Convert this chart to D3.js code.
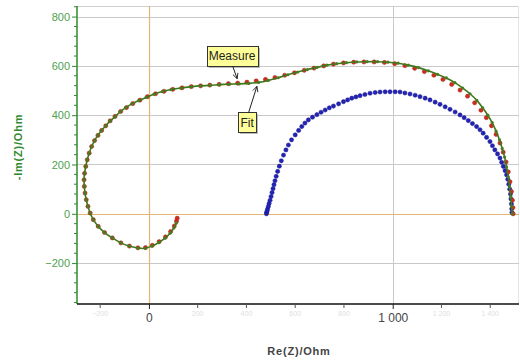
<!DOCTYPE html>
<html>
<head>
<meta charset="utf-8">
<script src="https://cdn.jsdelivr.net/npm/d3@7"></script>
<style>
  html, body { margin: 0; padding: 0; background: #fff; }
  svg { display: block; font-family: "Liberation Sans", Arial, sans-serif; }
</style>
</head>
<body>
<svg id="chart" width="520" height="361"></svg>
<script>
// Nyquist data: [Re(Z), -Im(Z)] in Ohm
const fitSeries = [
  [1490,0],[1488,30],[1484,70],[1479,110],[1474,150],[1467,190],[1459,230],[1449,265],[1438,300],[1424,335],
  [1408,370],[1390,400],[1369,430],[1345,460],[1317,487],[1287,510],[1255,532],[1220,551],[1184,566],[1146,580],
  [1106,593],[1064,603],[1022,611],[980,615],[938,617],[895,617],[852,616],[810,613],[770,609],[730,603],
  [690,594],[650,585],[610,575],[570,564],[530,552],[490,541],[450,533],[410,529],[370,527],[330,526],
  [290,524],[250,521],[210,519],[170,515],[130,510],[90,504],[55,496],[20,485],[-12,472],[-42,459],
  [-70,446],[-95,431],[-118,414],[-140,393],[-160,376],[-178,356],[-195,337],[-210,318],[-223,297],[-235,273],
  [-245,246],[-253,219],[-259,192],[-264,164],[-266,138],[-265,111],[-262,84],[-257,57],[-250,30],[-241,3],
  [-228,-24],[-208,-51],[-182,-76],[-150,-98],[-115,-118],[-80,-131],[-45,-139],[-15,-140],[12,-131],[40,-117],
  [66,-99],[87,-79],[102,-58],[112,-38]
];

const measureSeries = [
  [1494,0],[1493,25],[1491,55],[1487,90],[1481,130],[1474,170],[1465,210],[1453,250],[1440,287],[1424,322],
  [1405,357],[1384,390],[1362,420],[1336,450],[1307,477],[1276,502],[1242,525],[1206,545],[1169,562],[1130,577],
  [1090,590],[1050,601],[1008,609],[966,614],[924,616],[882,616],[840,615],[798,612],[757,607],[717,600],
  [677,591],[637,582],[597,572],[557,562],[517,553],[478,545],[440,539],[402,534],[364,530],[326,528],
  [288,525],[250,522],[212,519],[174,516],[136,511],[98,505],[62,497],[27,487],[-6,475],[-37,461],
  [-66,447],[-92,431],[-116,415],[-139,395],[-159,377],[-177,357],[-194,338],[-209,318],[-223,297],[-235,273],
  [-245,246],[-253,219],[-259,192],[-264,164],[-266,138],[-265,111],[-262,84],[-257,57],[-250,30],[-241,3],
  [-228,-24],[-208,-51],[-182,-76],[-150,-98],[-115,-118],[-80,-131],[-45,-138],[-14,-137],[14,-128],[42,-113],
  [68,-94],[89,-72],[104,-50],[113,-30],[116,-18]
];

const secondSeries = [
  [482,0],[483,6],[485,12],[487,20],[490,30],[493,42],[497,55],[501,70],[505,86],[509,102],
  [513,118],[517,134],[522,152],[528,172],[535,193],[543,215],[552,238],[562,259],[572,279],[585,300],
  [600,320],[614,338],[627,354],[640,368],[654,381],[671,392],[689,402],[706,412],[723,421],[740,430],
  [757,437],[778,446],[798,455],[815,462],[832,469],[849,474],[866,479],[886,484],[907,489],[928,492],
  [948,494],[969,495],[989,495],[1010,495],[1030,494],[1050,490],[1071,486],[1092,481],[1112,475],[1133,469],
  [1153,462],[1174,453],[1194,444],[1215,434],[1235,424],[1256,413],[1276,401],[1293,390],[1310,378],[1327,366],
  [1344,354],[1358,341],[1371,327],[1385,310],[1399,293],[1409,276],[1419,259],[1430,243],[1440,226],[1447,209],
  [1454,192],[1461,175],[1467,158],[1472,140],[1476,120],[1480,100],[1483,80],[1485,60],[1487,40],[1488,20],[1489,5]
];

const yTickValues = [-200, 0, 200, 400, 600, 800];
const xMajorTicks = [0, 1000];
const xMinorTicks = [-200, 200, 400, 600, 800, 1200, 1400];
const xTitle = "Re(Z)/Ohm";
const yTitle = "-Im(Z)/Ohm";

// callouts: label, box centre and arrow tip in data units
const calloutLabels = ["Measure", "Fit"];
const calloutBoxes = [[341, 642], [403, 372]];
const calloutTips = [[362, 548], [443, 517]];

const svg = d3.select("#chart");
const plotL = 77, plotR = 519, plotT = 6, plotB = 304;

const x = d3.scaleLinear().domain([-295, 1518]).range([plotL, plotR]);
const y = d3.scaleLinear().domain([-366, 843]).range([plotB, plotT]);

const fmt = v => d3.format(",")(v).replace(/,/g, " ");

// frame and grid
svg.append("line").attr("x1", plotL).attr("x2", plotR).attr("y1", plotT + 0.5).attr("y2", plotT + 0.5)
  .attr("stroke", "#d0d0d0");
svg.append("line").attr("x1", plotR - 0.5).attr("x2", plotR - 0.5).attr("y1", plotT).attr("y2", plotB)
  .attr("stroke", "#e4e4e4");

svg.append("g").selectAll("line")
  .data(yTickValues.filter(v => v !== 0))
  .join("line")
  .attr("x1", plotL).attr("x2", plotR)
  .attr("y1", d => Math.round(y(d)) + 0.5).attr("y2", d => Math.round(y(d)) + 0.5)
  .attr("stroke", "#c9c9c9").attr("stroke-width", 1);

svg.append("line")
  .attr("x1", Math.round(x(1000)) + 0.5).attr("x2", Math.round(x(1000)) + 0.5)
  .attr("y1", plotT).attr("y2", plotB)
  .attr("stroke", "#c9c9c9");

// zero lines
svg.append("line")
  .attr("x1", plotL).attr("x2", plotR)
  .attr("y1", Math.round(y(0)) + 0.5).attr("y2", Math.round(y(0)) + 0.5)
  .attr("stroke", "#e2b676").attr("stroke-width", 1.2);
svg.append("line")
  .attr("x1", Math.round(x(0)) + 0.5).attr("x2", Math.round(x(0)) + 0.5)
  .attr("y1", plotT).attr("y2", plotB)
  .attr("stroke", "#e2b676").attr("stroke-width", 1.2);

// second spectrum
svg.append("g").selectAll("circle")
  .data(secondSeries)
  .join("circle")
  .attr("cx", d => x(d[0])).attr("cy", d => y(d[1]))
  .attr("r", 2.1).attr("fill", "#2323b8").attr("stroke", "#16168a").attr("stroke-width", 0.5);

// measured spectrum
svg.append("g").selectAll("circle")
  .data(measureSeries)
  .join("circle")
  .attr("cx", d => x(d[0])).attr("cy", d => y(d[1]))
  .attr("r", 2.1).attr("fill", "#d42a1e").attr("stroke", "#9a2a18").attr("stroke-width", 0.5);

// fitted curve
const line = d3.line().x(d => x(d[0])).y(d => y(d[1])).curve(d3.curveCatmullRom);
svg.append("path")
  .datum(fitSeries)
  .attr("d", line)
  .attr("fill", "none").attr("stroke", "#3e7a1c").attr("stroke-width", 1.6);
svg.append("g").selectAll("circle")
  .data(fitSeries)
  .join("circle")
  .attr("cx", d => x(d[0])).attr("cy", d => y(d[1]))
  .attr("r", 1.6).attr("fill", "#4a7a22");

// y axis
const yAxis = d3.axisLeft(y).tickValues(yTickValues).tickSize(5).tickPadding(2).tickFormat(fmt);
const yMinor = d3.range(-360, 841, 40).filter(v => !yTickValues.includes(v));
const gy = svg.append("g").attr("transform", `translate(${plotL},0)`);
gy.call(yAxis);
gy.select(".domain").attr("stroke", "#2f8a2f").attr("stroke-width", 1.5).attr("d", `M0,${plotT}V${plotB}`);
gy.selectAll(".tick line").attr("stroke", "#2f8a2f");
gy.selectAll(".tick text").attr("fill", "#4f9f4f").attr("font-size", 11).attr("font-family", "Liberation Sans, Arial, sans-serif");
gy.append("g").selectAll("line")
  .data(yMinor).join("line")
  .attr("x1", -3).attr("x2", 0)
  .attr("y1", d => y(d)).attr("y2", d => y(d))
  .attr("stroke", "#2f8a2f");

// x axis
const gx = svg.append("g").attr("transform", `translate(0,${plotB})`);
gx.call(d3.axisBottom(x).tickValues(xMajorTicks).tickSize(5).tickPadding(4).tickFormat(fmt));
gx.select(".domain").attr("stroke", "#111").attr("stroke-width", 1.5).attr("d", `M${plotL},0H${plotR}`);
gx.selectAll(".tick line").attr("stroke", "#222");
gx.selectAll(".tick text").attr("fill", "#444").attr("font-size", 12).attr("font-family", "Liberation Sans, Arial, sans-serif");
const gxm = gx.append("g").selectAll("g").data(xMinorTicks).join("g")
  .attr("transform", d => `translate(${x(d)},0)`);
gxm.append("line").attr("y1", 0).attr("y2", 4).attr("stroke", "#555");
gxm.append("text").attr("y", 12).attr("text-anchor", "middle")
  .attr("font-size", 7).attr("fill", "#e0e0e0").text(d => fmt(d));

// axis titles
svg.append("text")
  .attr("x", (plotL + plotR) / 2 + 1).attr("y", 355)
  .attr("text-anchor", "middle").attr("font-size", 11).attr("font-weight", "bold")
  .attr("letter-spacing", 0.8).attr("fill", "#444").text(xTitle);
svg.append("text")
  .attr("transform", "translate(22,147) rotate(-90)")
  .attr("text-anchor", "middle").attr("font-size", 11).attr("font-weight", "bold")
  .attr("letter-spacing", 0.8).attr("fill", "#2f8a2f").text(yTitle);

// callouts
const defs = svg.append("defs");
defs.append("marker").attr("id", "tip").attr("viewBox", "0 0 8 8")
  .attr("refX", 7).attr("refY", 4).attr("markerWidth", 7).attr("markerHeight", 7)
  .attr("orient", "auto").attr("markerUnits", "userSpaceOnUse")
  .append("path").attr("d", "M1,1L7,4L1,7").attr("fill", "none").attr("stroke", "#222").attr("stroke-width", 1);

calloutLabels.forEach((label, i) => {
  const g = svg.append("g");
  const cx = x(calloutBoxes[i][0]), cy = y(calloutBoxes[i][1]);
  const txt = g.append("text").attr("x", cx).attr("y", cy + 4.5)
    .attr("text-anchor", "middle").attr("font-size", 12).attr("fill", "#222").text(label);
  const bb = txt.node().getBBox();
  const bx = Math.round(bb.x - 2) + 0.5, bw = Math.round(bb.width + 4);
  const by = Math.round(cy - 10) + 0.5, bh = 20;
  g.insert("rect", "text").attr("x", bx + 1.5).attr("y", by + 1.5).attr("width", bw).attr("height", bh)
    .attr("fill", "#bbb");
  g.insert("rect", "text").attr("x", bx).attr("y", by).attr("width", bw).attr("height", bh)
    .attr("fill", "#ffff99").attr("stroke", "#333").attr("stroke-width", 1);
  const tx = x(calloutTips[i][0]), ty = y(calloutTips[i][1]);
  const sy = ty > cy ? by + bh : by;
  const sx = cx + (tx - cx) * 0.15;
  svg.append("line").attr("x1", sx).attr("y1", sy).attr("x2", tx).attr("y2", ty)
    .attr("stroke", "#222").attr("stroke-width", 1).attr("marker-end", "url(#tip)");
});
</script>
</body>
</html>
